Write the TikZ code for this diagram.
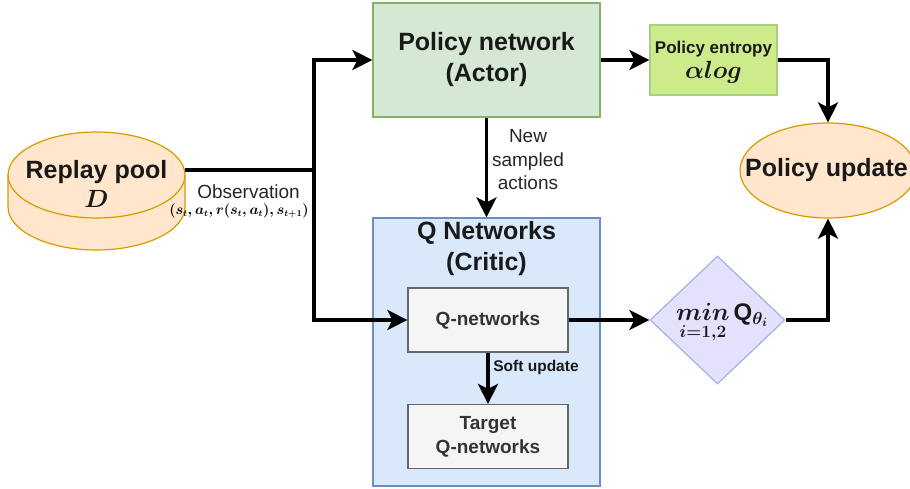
\documentclass[tikz,border=0pt]{standalone}
\usepackage{amsmath}
\usepackage{fontspec}
\setmainfont{Liberation Sans}
\usetikzlibrary{arrows.meta,shapes.geometric}

\definecolor{greenfill}{HTML}{D5E8D4}
\definecolor{greenline}{HTML}{82B366}
\definecolor{limefill}{HTML}{CDEB8B}
\definecolor{limeline}{HTML}{A6D07F}
\definecolor{bluefill}{HTML}{DAE8FC}
\definecolor{blueline}{HTML}{6C8EBF}
\definecolor{orangefill}{HTML}{FFE6CC}
\definecolor{orangeline}{HTML}{D79B00}
\definecolor{grayfill}{HTML}{F5F5F5}
\definecolor{grayline}{HTML}{666666}
\definecolor{graytext}{HTML}{333333}
\definecolor{lavfill}{HTML}{E4E1FD}
\definecolor{lavline}{HTML}{A3B2E2}

\begin{document}
\begin{tikzpicture}[x=1pt,y=1pt,
  wire/.style={line width=3.6pt},
  flow/.style={line width=3.6pt,-{Stealth[length=20pt,width=20pt,inset=5pt]}},
  box/.style={rectangle,line width=1.2pt,inner sep=0pt,align=center},
  title/.style={font=\fontsize{25}{31}\selectfont\bfseries,align=center,text=black!90},
  inner/.style={box,fill=grayfill,draw=grayline,minimum width=160,minimum height=64,
    font=\fontsize{19}{24}\selectfont\bfseries,text=graytext},
  note/.style={font=\fontsize{19}{23.5}\selectfont,align=center,text=black!85}]
\useasboundingbox (0,0) rectangle (910,488);

% replay pool drawn as a cylinder
\filldraw[fill=orangefill,draw=orangeline,line width=1.2pt]
  (8,313) -- (8,281) arc[start angle=180,end angle=360,x radius=88.5,y radius=43]
  -- (185,313) arc[start angle=0,end angle=180,x radius=88.5,y radius=43] -- cycle;
\draw[orangeline,line width=1.2pt]
  (8,313) arc[start angle=180,end angle=360,x radius=88.5,y radius=43];
\node[title,inner sep=0pt] (rp) at (96.5,304) {Replay pool\\[-2pt]$\boldsymbol{D}$};

% actor
\node[box,fill=greenfill,draw=greenline,minimum width=227,minimum height=114,title] (pn)
  at (486.5,428) {Policy network\\(Actor)};

% entropy term
\node[box,fill=limefill,draw=limeline,minimum width=127,minimum height=70] (pe)
  at (713.5,428) {};
\node[font=\fontsize{17}{20}\selectfont\bfseries,text=black!90,inner sep=0pt] (pe1)
  at (713.5,439) {Policy entropy};
\node[inner sep=0pt,text=black!90] (pe2) at (713.5,416)
  {\fontsize{23}{23}\selectfont$\boldsymbol{\alpha log}$};

% policy update
\node[ellipse,fill=orangefill,draw=orangeline,line width=1.2pt,minimum width=176,
  minimum height=95,inner sep=0pt] (pu) at (828,317.5) {};
\node[title,inner sep=0pt] (pul) at (826.5,317.5) {Policy update};

% critic container
\node[box,fill=bluefill,draw=blueline,minimum width=227,minimum height=268] (qc)
  at (486.5,136) {};
\node[title] (qt) at (486.5,239) {Q Networks\\(Critic)};
\node[inner] (qn) at (488,168) {Q-networks};
\node[inner] (tq) at (488,51.5) {Target\\Q-networks};

% minimum over the two critics
\node[diamond,fill=lavfill,draw=lavline,line width=1.2pt,minimum width=135,
  minimum height=128,inner sep=0pt] (dm) at (717.5,168) {};
\node[inner sep=0pt,text=black!90] (dml) at (722,164)
  {\fontsize{24}{24}\selectfont$\boldsymbol{\underset{\vphantom{|}i=1,2}{min}}$\,\textbf{Q}$_{\boldsymbol{\theta_i}}$};

% connectors
\coordinate (rpout) at (185,318);
\coordinate (j) at (314,318);
\draw[wire] (rpout) -- (j);
\draw[flow] (j) |- (pn.west);
\draw[flow] (j) |- (qn.west);
\draw[flow] (pn.east) -- (pe.west);
\draw[flow] (pe.east) -| (pu.north);
\draw[flow] (pn.south) -- (qc.north);
\draw[flow] (qn.east) -- (dm.west);
\draw[flow] (dm.east) -| (pu.south);
\draw[flow] (qn.south) -- (tq.north);

% labels
\node[note] (nsa) at (528,328) {New\\sampled\\actions};
\node[font=\fontsize{15.5}{18}\selectfont\bfseries,text=black!90] (su) at (536,121) {Soft update};
\node[note] (obs) at (248.5,296) {Observation};
\node[font=\fontsize{13.5}{16}\selectfont,inner sep=0pt] (obm) at (239,277)
  {$\boldsymbol{(s_t,a_t,r(s_t,a_t),s_{t+1})}$};
\end{tikzpicture}
\end{document}
